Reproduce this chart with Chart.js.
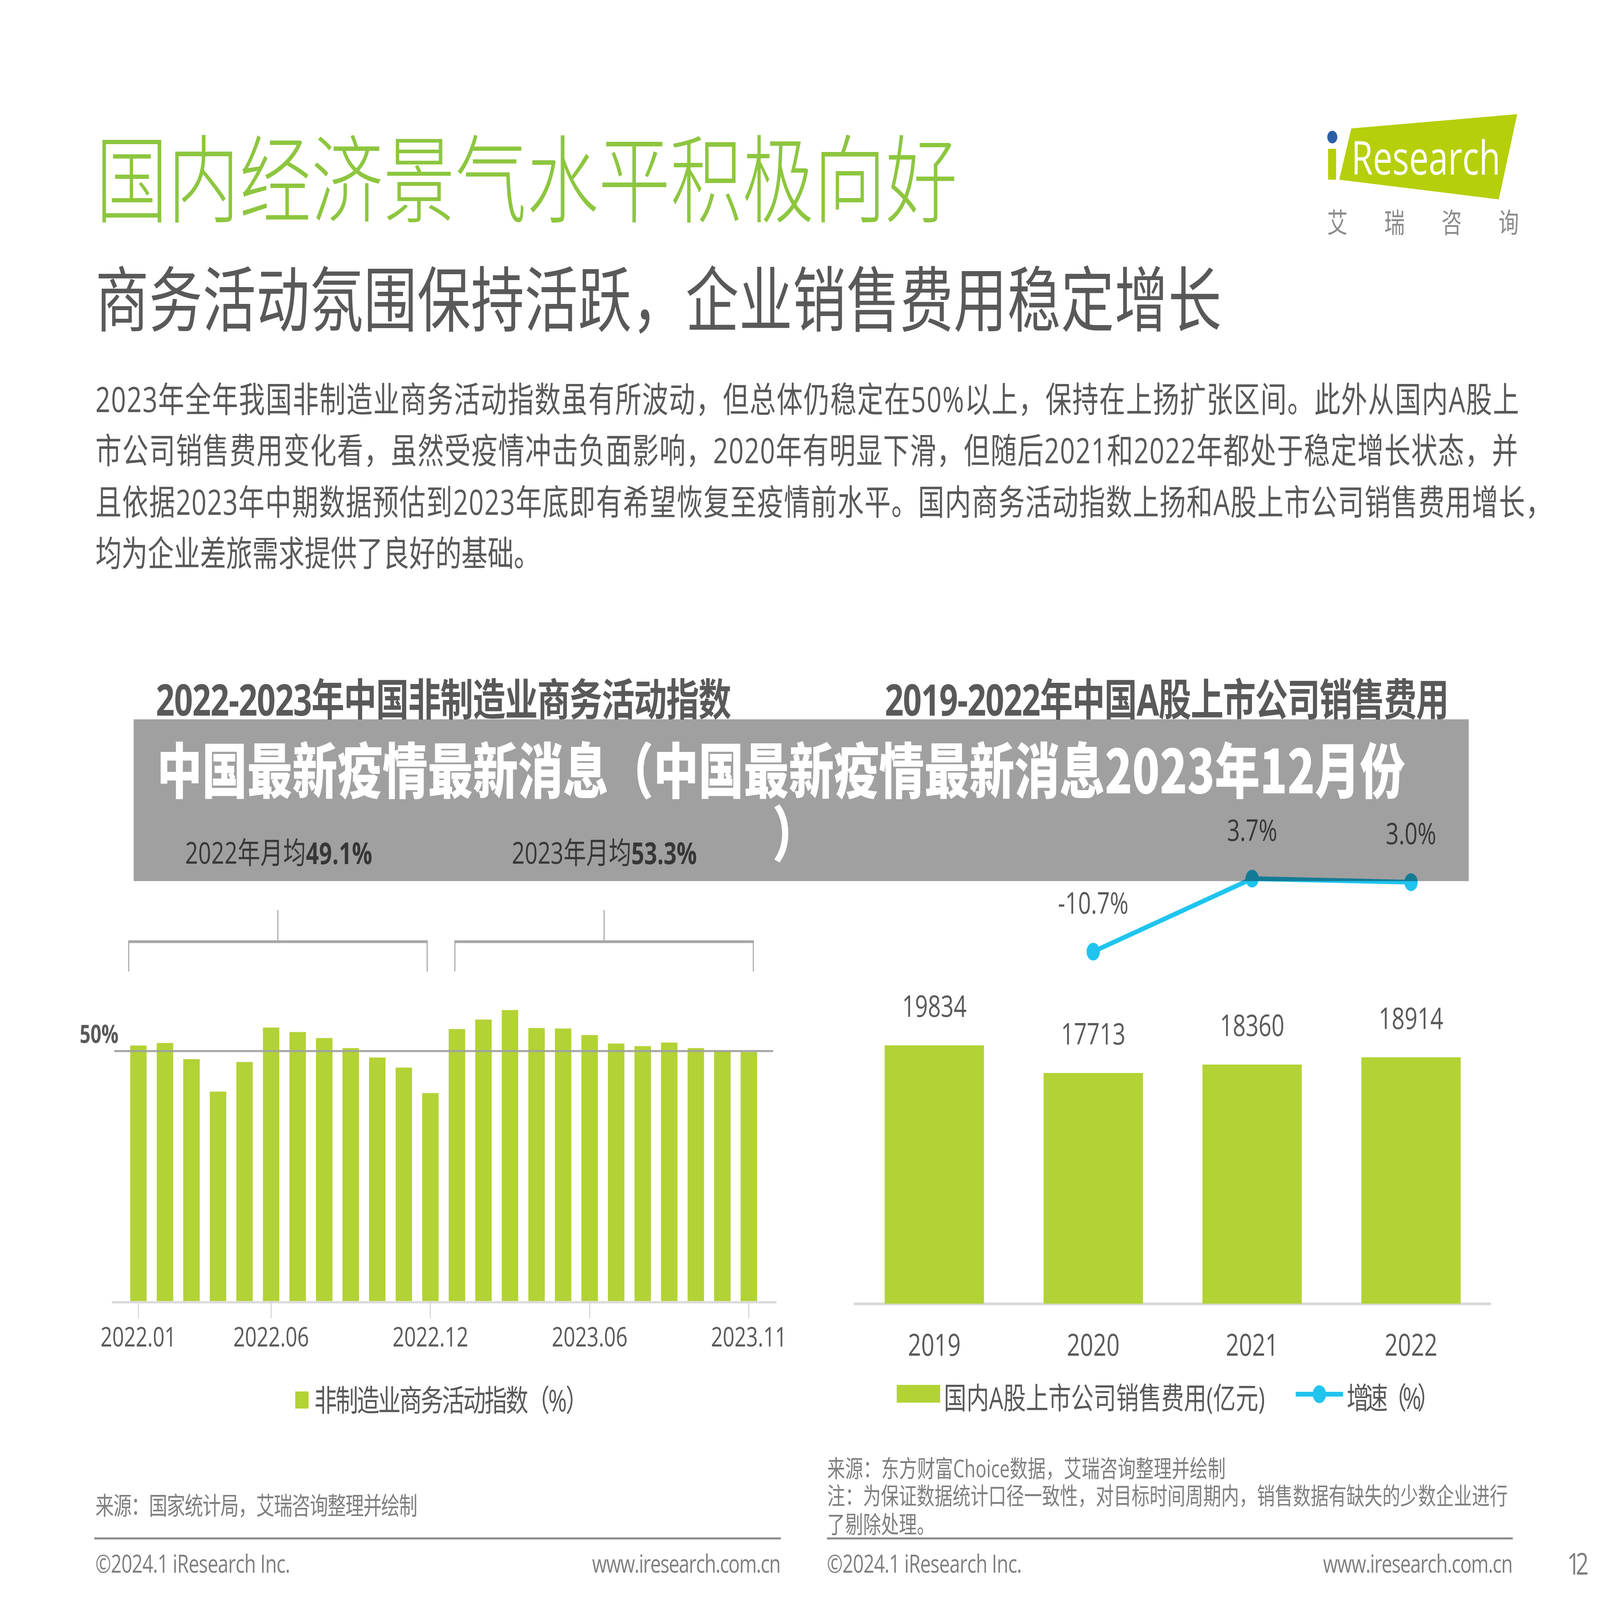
<!DOCTYPE html>
<html>
<head>
<meta charset="utf-8">
<script src="https://cdn.jsdelivr.net/npm/chart.js@4.4.1/dist/chart.umd.min.js"></script>
<style>
html, body { margin: 0; padding: 0; background: #fff; width: 100%; height: 100%; overflow: hidden; }
#page { position: absolute; left: 0; top: 0; width: 1560px; height: 1170px; transform-origin: 0 0; transform: scale(3.6923077);
        font-family: 'Open Sans', 'Noto Sans CJK SC', sans-serif; }
#page svg { position: absolute; left: 0; top: 0; }
#page svg text { dominant-baseline: central; }
.box { position: absolute; }
</style>
</head>
<body>
<div id="page">

<svg id="base" width="1560" height="1170" viewBox="0 0 1560 1170" font-family="'Open Sans','Noto Sans CJK SC',sans-serif">
  <!-- headline -->
  <text x="93.5" y="130" font-size="70" font-weight="300" fill="#8dc63f" textLength="840">国内经济景气水平积极向好</text>
  <text x="93" y="218" font-size="52" fill="#595959" textLength="1098">商务活动氛围保持活跃，企业销售费用稳定增长</text>
  <text x="93" y="291.5" font-size="25.5" fill="#595959" textLength="1388">2023年全年我国非制造业商务活动指数虽有所波动，但总体仍稳定在50%以上，保持在上扬扩张区间。此外从国内A股上</text>
  <text x="93" y="329" font-size="25.5" fill="#595959" textLength="1387">市公司销售费用变化看，虽然受疫情冲击负面影响，2020年有明显下滑，但随后2021和2022年都处于稳定增长状态，并</text>
  <text x="93" y="366.5" font-size="25.5" fill="#595959" textLength="1420">且依据2023年中期数据预估到2023年底即有希望恢复至疫情前水平。国内商务活动指数上扬和A股上市公司销售费用增长，</text>
  <text x="93" y="404" font-size="25.5" fill="#595959">均为企业差旅需求提供了良好的基础。</text>

  <!-- logo -->
  <polygon points="1317.5,93.9 1479.3,83.5 1461.3,145.8 1305.8,131.4" fill="#b5cf0a"/>
  <rect x="1294.9" y="108.8" width="7.8" height="22.6" fill="#b5cf0a"/>
  <ellipse cx="1299" cy="100.2" rx="4.9" ry="4.6" fill="#2d5fa6"/>
  <text x="1317.5" y="127.8" font-size="34" fill="#fff" textLength="145.4" lengthAdjust="spacingAndGlyphs" style="dominant-baseline:alphabetic">Research</text>
  <text x="1294" y="162.5" font-size="20" fill="#8c8c8c" textLength="187">艾瑞咨询</text>

  <!-- chart titles -->
  <text x="152" y="511" font-size="32" font-weight="700" fill="#595959" textLength="561">2022-2023年中国非制造业商务活动指数</text>
  <text x="862.7" y="511" font-size="32" font-weight="700" fill="#595959" textLength="550">2019-2022年中国A股上市公司销售费用</text>

  <!-- yearly averages and brackets -->
  <text x="180.5" y="623" font-size="22" fill="#595959" textLength="182.5">2022年月均<tspan font-weight="700">49.1%</tspan></text>
  <text x="499" y="623" font-size="22" fill="#595959" textLength="180.5">2023年月均<tspan font-weight="700">53.3%</tspan></text>
  <g stroke="#a6a6a6" fill="none">
    <path d="M125 688.6 H417" stroke-width="2"/>
    <path d="M125.5 688 V710.5 M416.5 688 V710.5 M270.9 665.5 V688" stroke-width="1"/>
    <path d="M443 688.6 H735" stroke-width="2"/>
    <path d="M443.5 688 V710.5 M734.5 688 V710.5 M589 665.5 V688" stroke-width="1"/>
  </g>

  <!-- legends -->
  <rect x="287.8" y="1017.5" width="13" height="12.5" fill="#b3d235"/>
  <text x="306.5" y="1023.5" font-size="22" fill="#595959" textLength="267">非制造业商务活动指数（%）</text>
  <rect x="874.3" y="1012.7" width="42.4" height="13" fill="#b3d235"/>
  <text x="920.3" y="1021.7" font-size="22" fill="#595959" textLength="313">国内A股上市公司销售费用(亿元)</text>
  <path d="M1263.3 1019.5 H1309.5" stroke="#1fc4ef" stroke-width="3.5"/>
  <circle cx="1286.4" cy="1019.5" r="6.5" fill="#1fc4ef"/>
  <text x="1313" y="1021.7" font-size="22" fill="#595959" textLength="91">增速（%）</text>

  <!-- sources -->
  <text x="93" y="1100.3" font-size="18" fill="#7f7f7f" textLength="314">来源：国家统计局，艾瑞咨询整理并绘制</text>
  <text x="806.5" y="1073.5" font-size="17.5" fill="#7f7f7f" textLength="388.5">来源：东方财富Choice数据，艾瑞咨询整理并绘制</text>
  <text x="806.5" y="1093.5" font-size="17.5" fill="#7f7f7f" textLength="663.5">注：为保证数据统计口径一致性，对目标时间周期内，销售数据有缺失的少数企业进行</text>
  <text x="806.5" y="1114.5" font-size="17.5" fill="#7f7f7f">了剔除处理。</text>

  <!-- footer -->
  <path d="M92 1125 H761.3 M806.3 1125 H1475" stroke="#8c8c8c" stroke-width="1.5"/>
  <text x="93" y="1143" font-size="18.5" fill="#7f7f7f" textLength="190">©2024.1 iResearch Inc.</text>
  <text x="577.3" y="1143" font-size="18.5" fill="#7f7f7f" textLength="184">www.iresearch.com.cn</text>
  <text x="806.3" y="1143" font-size="18.5" fill="#7f7f7f" textLength="190">©2024.1 iResearch Inc.</text>
  <text x="1290" y="1143" font-size="18.5" fill="#7f7f7f" textLength="185">www.iresearch.com.cn</text>
  <text x="1528" y="1143" font-size="22" fill="#7f7f7f" textLength="21">12</text>
</svg>

<div class="box" style="left:60px;top:700px;width:720px;height:300px"><canvas id="leftChart" width="720" height="300"></canvas></div>
<div class="box" style="left:800px;top:560px;width:690px;height:440px"><canvas id="rightChart" width="690" height="440"></canvas></div>

<svg id="banner" width="1560" height="1170" viewBox="0 0 1560 1170" font-family="'Noto Sans CJK SC',sans-serif">
  <rect x="130.3" y="526" width="1301.7" height="118.3" fill="rgba(0,0,0,0.373)"/>
  <text x="153" y="561" font-size="44" font-weight="900" fill="#fff" textLength="1217">中国最新疫情最新消息（中国最新疫情最新消息2023年12月份</text>
  <text x="753" y="607" font-size="44" font-weight="900" fill="#fff">）</text>
</svg>

</div>

<script>
// the page is laid out on a 1560x1170 grid and scaled to fill the window
const page = document.getElementById('page');
function fitPage() {
    const w = window.innerWidth || document.documentElement.clientWidth || 5760;
    const h = window.innerHeight || document.documentElement.clientHeight || 4320;
    page.style.transform = 'scale(' + (w / 1560) + ',' + (h / 1170) + ')';
}
fitPage();
window.addEventListener('resize', fitPage);
window.addEventListener('load', fitPage);

const DPR = 3.7;
const GREEN = '#b3d235';
const CYAN = '#1fc4ef';
const TEXT = '#595959';
Chart.defaults.font.family = "'Open Sans', 'Noto Sans CJK SC', sans-serif";
Chart.defaults.color = TEXT;

// left chart: non-manufacturing business activity index, monthly
const months = ['2022.01','2022.02','2022.03','2022.04','2022.05','2022.06','2022.07','2022.08','2022.09','2022.10','2022.11','2022.12',
                '2023.01','2023.02','2023.03','2023.04','2023.05','2023.06','2023.07','2023.08','2023.09','2023.10','2023.11','2023.12'];
const activityIndex = [51.1, 51.6, 48.4, 41.9, 47.8, 54.7, 53.8, 52.6, 50.6, 48.7, 46.7, 41.6,
                       54.4, 56.3, 58.2, 54.6, 54.5, 53.2, 51.5, 51.0, 51.7, 50.6, 50.1, 49.8];
const shownTicks = ['2022.01', '2022.06', '2022.12', '2023.06', '2023.11'];
const shownTickIdx = [0, 5, 11, 17, 23];
const refLevel = 50;
const refLabel = '50%';

// right chart: A-share listed companies selling expenses
const years = ['2019', '2020', '2021', '2022'];
const salesExpense = [19834, 17713, 18360, 18914];
const growthRate = [null, -10.7, 3.7, 3.0];

const leftExtras = {
    id: 'leftExtras',
    afterDatasetsDraw(chart) {
        const { ctx, chartArea, scales } = chart;
        const yRef = scales.y.getPixelForValue(refLevel);
        ctx.save();
        // x axis line, a bit wider than the plot
        ctx.strokeStyle = '#d9d9d9';
        ctx.lineWidth = 1.6;
        ctx.beginPath();
        ctx.moveTo(chartArea.left - 13, chartArea.bottom + 0.8);
        ctx.lineTo(chartArea.right + 14, chartArea.bottom + 0.8);
        ctx.stroke();
        // 50% line
        ctx.strokeStyle = 'rgba(160,160,160,0.95)';
        ctx.lineWidth = 1.5;
        ctx.beginPath();
        ctx.moveTo(chartArea.left - 10.5, yRef);
        ctx.lineTo(chartArea.right + 10.7, yRef);
        ctx.stroke();
        ctx.fillStyle = TEXT;
        ctx.font = "bold 18.5px 'Open Sans', 'Noto Sans CJK SC', sans-serif";
        ctx.textAlign = 'right';
        ctx.textBaseline = 'alphabetic';
        ctx.fillText(refLabel, chartArea.left - 6.5, yRef - 6);
        ctx.restore();
    }
};

const rightLabels = {
    id: 'rightLabels',
    afterDatasetsDraw(chart) {
        const { ctx } = chart;
        ctx.save();
        ctx.fillStyle = TEXT;
        ctx.font = "22px 'Open Sans', 'Noto Sans CJK SC', sans-serif";
        ctx.textAlign = 'center';
        ctx.textBaseline = 'middle';
        chart.getDatasetMeta(1).data.forEach((bar, i) => {
            ctx.fillText(String(salesExpense[i]), bar.x, bar.y - 27);
        });
        chart.getDatasetMeta(0).data.forEach((pt, i) => {
            if (growthRate[i] === null) return;
            ctx.fillText(growthRate[i].toFixed(1) + '%', pt.x, pt.y - 34);
        });
        ctx.restore();
    }
};

new Chart(document.getElementById('leftChart'), {
    type: 'bar',
    data: {
        labels: months,
        datasets: [{
            label: '非制造业商务活动指数（%）',
            data: activityIndex,
            backgroundColor: GREEN,
            categoryPercentage: 1,
            barPercentage: 0.62
        }]
    },
    options: {
        responsive: false,
        animation: false,
        devicePixelRatio: DPR,
        layout: { padding: { left: 62, right: 36.9, top: 32, bottom: 0 } },
        plugins: { legend: { display: false }, tooltip: { enabled: false } },
        scales: {
            x: {
                grid: {
                    display: true,
                    offset: false,
                    drawOnChartArea: false,
                    drawTicks: true,
                    tickLength: 12.5,
                    lineWidth: 1.2,
                    color: c => shownTickIdx.includes(c.index) ? '#d9d9d9' : 'rgba(0,0,0,0)'
                },
                border: { display: false },
                ticks: {
                    autoSkip: false,
                    maxRotation: 0,
                    minRotation: 0,
                    padding: 3,
                    color: TEXT,
                    font: { size: 20 },
                    callback: (v, i) => {
                        const k = shownTickIdx.indexOf(i);
                        return k >= 0 ? shownTicks[k] : '';
                    }
                },
                afterFit: s => { s.height = 48.5; s.paddingLeft = 0; s.paddingRight = 0; }
            },
            y: { display: false, min: 0, max: 60 }
        }
    },
    plugins: [leftExtras]
});

new Chart(document.getElementById('rightChart'), {
    data: {
        labels: years,
        datasets: [{
            type: 'line',
            label: '增速（%）',
            data: growthRate,
            yAxisID: 'y2',
            borderColor: CYAN,
            backgroundColor: CYAN,
            borderWidth: 3.5,
            pointRadius: 6.5,
            pointBorderWidth: 0,
            pointBackgroundColor: CYAN,
            tension: 0,
            order: 0
        }, {
            type: 'bar',
            label: '国内A股上市公司销售费用(亿元)',
            data: salesExpense,
            yAxisID: 'y',
            backgroundColor: GREEN,
            categoryPercentage: 1,
            barPercentage: 0.625,
            order: 1
        }]
    },
    options: {
        responsive: false,
        animation: false,
        devicePixelRatio: DPR,
        layout: { padding: { left: 33.5, right: 36.8, top: 40, bottom: 0 } },
        plugins: { legend: { display: false }, tooltip: { enabled: false } },
        scales: {
            x: {
                grid: { display: true, drawOnChartArea: false, drawTicks: false, color: 'rgba(0,0,0,0)' },
                border: { display: true, color: '#d9d9d9', width: 2 },
                ticks: { padding: 18, color: TEXT, font: { size: 22.5 }, maxRotation: 0 },
                afterFit: s => { s.height = 46.6; s.paddingLeft = 0; s.paddingRight = 0; }
            },
            y: { display: false, min: 0, max: 37083 },
            y2: { display: false, min: -80.2, max: 15.17 }
        }
    },
    plugins: [rightLabels]
});
</script>
</body>
</html>
